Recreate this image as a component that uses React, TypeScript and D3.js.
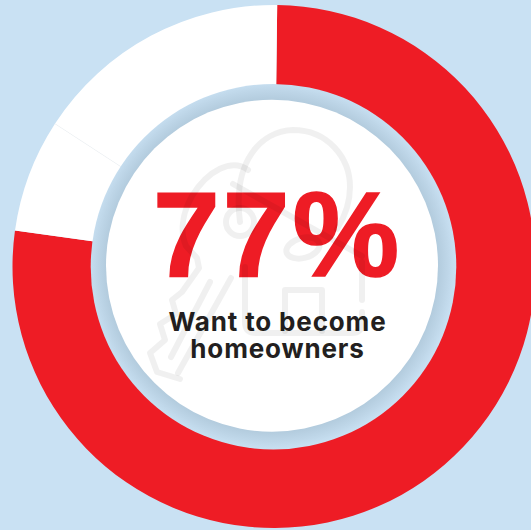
import React from "react";
import * as d3 from "d3";

// Share of respondents, clockwise from the top of the ring
const segmentNames = ["Want to become homeowners", "Other A", "Other B"];
const segmentValues = [77, 7, 16];
const segmentColors = ["#ee1c25", "#ffffff", "#ffffff"];
const headline = "77%";
const captionLines = ["Want to become", "homeowners"];

const WIDTH = 531;
const HEIGHT = 530;
const CENTER_X = 274;
const CENTER_Y = 266.5;
const OUTER_RADIUS = 261.5;
const HOLE_X = 273.5;
const HOLE_Y = 266.7;
const HOLE_RADIUS = 182.8;
const DISC_X = 272;
const DISC_Y = 265.7;
const DISC_RADIUS = 166;
const START = (0.7 * Math.PI) / 180;

const pie = d3
  .pie<number>()
  .sort(null)
  .startAngle(START)
  .endAngle(START + 2 * Math.PI);
const arc = d3.arc<d3.PieArcDatum<number>>().innerRadius(HOLE_RADIUS - 3).outerRadius(OUTER_RADIUS);

// Faint line-art watermark: bulb, key and house
const ICON_PATHS = [
  "M240 222 C232 160 262 131 293 130 C328 130 350 158 350 187 C350 205 344 218 337 229",
  "M233 184 L362 256",
  "M248 170 C232 158 208 170 192 196 C182 214 180 232 186 246 L197 258 L199 268 L182 292 L172 300 L176 314 L160 324 L165 340 L150 353 L157 372 L180 379",
  "M231 278 L178 373",
  "M210 282 L171 357",
  "M245 267 L245 322 Q245 333 256 333 L352 333 Q362 333 362 322 L362 312",
  "M362 300 L362 262",
  "M285 331 L285 290 L322 290 L322 331",
];

export default function App() {
  const slices = pie(segmentValues);
  const seamAngle = slices[1].endAngle;
  const [sx0, sy0] = d3.pointRadial(seamAngle, HOLE_RADIUS);
  const [sx1, sy1] = d3.pointRadial(seamAngle, OUTER_RADIUS);
  return (
    <svg
      width={WIDTH}
      height={HEIGHT}
      viewBox={`0 0 ${WIDTH} ${HEIGHT}`}
      style={{ position: "absolute", left: 0, top: 0, display: "block" }}
    >
      <defs>
        <radialGradient
          id="bandShade"
          gradientUnits="userSpaceOnUse"
          cx={DISC_X}
          cy={DISC_Y}
          r={HOLE_RADIUS + 2}
        >
          <stop offset="0.88" stopColor="#afc8da" />
          <stop offset="0.95" stopColor="#bed6e8" />
          <stop offset="1" stopColor="#c9e1f3" />
        </radialGradient>
      </defs>
      <rect width={WIDTH} height={HEIGHT} fill="#c9e1f3" />
      <g transform={`translate(${CENTER_X},${CENTER_Y})`}>
        {slices.map((s, i) => (
          <path key={segmentNames[i]} d={arc(s) ?? ""} fill={segmentColors[i]} />
        ))}
        <line x1={sx0} y1={sy0} x2={sx1} y2={sy1} stroke="#ececec" strokeWidth={0.5} />
      </g>
      <circle cx={HOLE_X} cy={HOLE_Y} r={HOLE_RADIUS} fill="url(#bandShade)" />
      <circle cx={DISC_X} cy={DISC_Y} r={DISC_RADIUS} fill="#ffffff" />
      <text
        x={277.5}
        y={275.5}
        textAnchor="middle"
        fontFamily="'Liberation Sans', Arial, sans-serif"
        fontWeight={700}
        fontSize={120}
        letterSpacing={3}
        fill="#ee1c25"
        stroke="#ee1c25"
        strokeWidth={1.6}
      >
        {headline}
      </text>
      <text
        textAnchor="middle"
        fontFamily="Inter, sans-serif"
        fontWeight={700}
        fontSize={26}
        letterSpacing={0.85}
        fill="#231f20"
      >
        {captionLines.map((line, i) => (
          <tspan key={line} x={277.5} y={330.5 + i * 27}>
            {line}
          </tspan>
        ))}
      </text>
      <g
        fill="none"
        stroke="#000000"
        strokeOpacity={0.06}
        strokeWidth={6}
        strokeLinecap="round"
        strokeLinejoin="round"
      >
        {ICON_PATHS.map((d) => (
          <path key={d} d={d} />
        ))}
        <circle cx={240} cy={222} r={14} />
        <ellipse cx={303} cy={248} rx={17} ry={10} transform="rotate(-15 303 248)" />
      </g>
    </svg>
  );
}
